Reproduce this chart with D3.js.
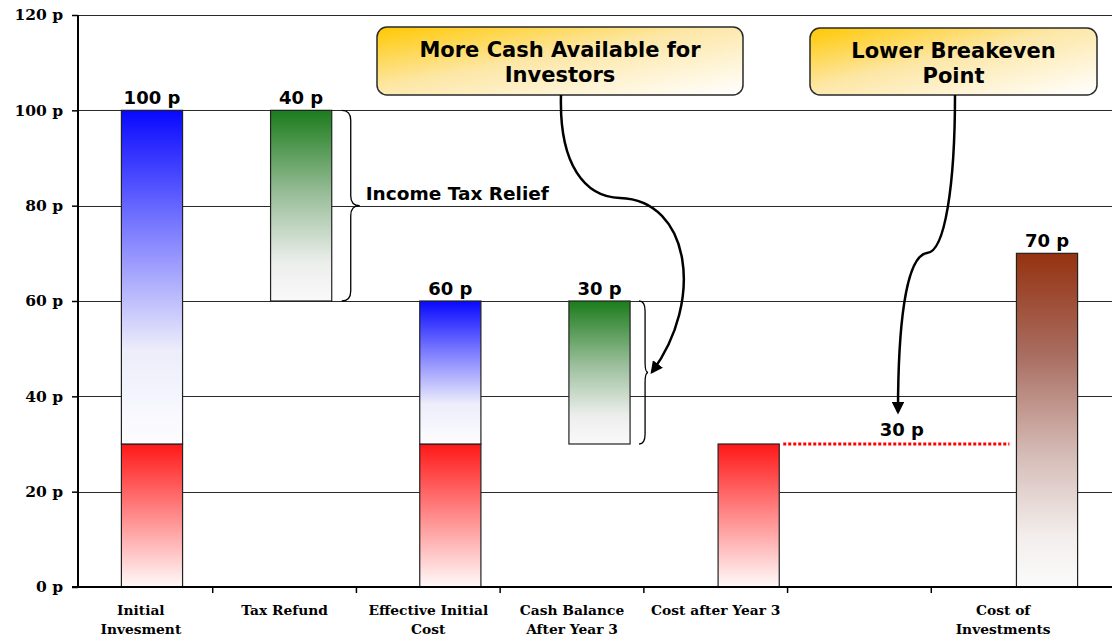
<!DOCTYPE html>
<html>
<head>
<meta charset="utf-8">
<script src="https://cdn.jsdelivr.net/npm/d3@7"></script>
<style>
  body { margin: 0; background: #fff; }
  svg { display: block; }
  .tick-y { font: bold 15.5px "DejaVu Serif", serif; }
  .cat { font: bold 13.8px "DejaVu Serif", serif; }
  .val { font: bold 18px "DejaVu Sans", sans-serif; }
  .note { font: bold 21px "DejaVu Sans", sans-serif; }
</style>
</head>
<body>
<div id="chart"></div>
<script>
// categories (index keyed; one slot is blank in the original)
var categories = ["Initial|Invesment", "Tax Refund", "Effective Initial|Cost",
    "Cash Balance|After Year 3", "Cost after Year 3", "", "Cost of|Investments"];

// stacked segments per category, [from, to] in pence
var redSeg   = [[0, 30], null, [0, 30], null, [0, 30], null, null];
var blueSeg  = [[30, 100], null, [30, 60], null, null, null, null];
var greenSeg = [null, [60, 100], null, [30, 60], null, null, null];
var brownSeg = [null, null, null, null, null, null, [0, 70]];

var topLabels = ["100 p", "40 p", "60 p", "30 p", "", "", "70 p"];
var yTicks = [0, 20, 40, 60, 80, 100, 120];
var breakevenValue = 30;

var width = 1112, height = 637;
var margin = { top: 15, left: 78, bottom: 50 };

var svg = d3.select("#chart").append("svg")
    .attr("width", width)
    .attr("height", height);

var y = d3.scaleLinear().domain([0, 120]).range([height - margin.bottom, margin.top]);

var idx = d3.range(categories.length);
// bars
var x = d3.scaleBand().domain(idx).range([77.4, 1121.6])
    .paddingInner(0.59).paddingOuter(0.295);
// axis labels / ticks (spaced a little differently in the original)
var xAxisScale = d3.scaleBand().domain(idx).range([69, 1075]);

// gradients
var defs = svg.append("defs");
function vGrad(id, stops) {
    var g = defs.append("linearGradient").attr("id", id)
        .attr("x1", 0).attr("y1", 0).attr("x2", 0).attr("y2", 1);
    stops.forEach(function (s) {
        g.append("stop").attr("offset", s[0]).attr("stop-color", s[1]);
    });
}
vGrad("gBlue", [[0, "#0808ff"], [0.35, "#7a7aff"], [0.72, "#ededfb"], [1, "#fdfdff"]]);
vGrad("gRed", [[0, "#ff1818"], [0.5, "#ff8a8a"], [1, "#fffafa"]]);
vGrad("gGreen", [[0, "#1c7c1c"], [0.45, "#9cbf9c"], [0.8, "#eceeec"], [1, "#f9f9f9"]]);
vGrad("gBrown", [[0, "#963210"], [0.3, "#a86c60"], [0.6, "#d5bbb5"], [0.85, "#f3eeed"], [1, "#fbfbfb"]]);

var boxGrad = defs.append("linearGradient").attr("id", "gBox")
    .attr("x1", 0).attr("y1", 0).attr("x2", 1).attr("y2", 1);
boxGrad.append("stop").attr("offset", 0).attr("stop-color", "#ffc800");
boxGrad.append("stop").attr("offset", 0.45).attr("stop-color", "#fde7a6");
boxGrad.append("stop").attr("offset", 1).attr("stop-color", "#ffffff");

defs.append("marker").attr("id", "arrow")
    .attr("viewBox", "0 0 10 10").attr("refX", 8).attr("refY", 5)
    .attr("markerWidth", 5).attr("markerHeight", 5)
    .attr("orient", "auto-start-reverse")
    .append("path").attr("d", "M0,0 L10,5 L0,10 z").attr("fill", "#000");

// gridlines
svg.append("g").selectAll("line").data(yTicks).enter().append("line")
    .attr("x1", margin.left).attr("x2", width)
    .attr("y1", function (d) { return Math.round(y(d)) + 0.5; })
    .attr("y2", function (d) { return Math.round(y(d)) + 0.5; })
    .attr("stroke", "#2a2a2a").attr("stroke-width", 1.2);

// y axis
var yAxis = d3.axisLeft(y).tickValues(yTicks).tickSize(6).tickPadding(9)
    .tickFormat(function (d) { return d + " p"; });
var gy = svg.append("g").attr("transform", "translate(" + margin.left + ",0)").call(yAxis);
gy.select(".domain").remove();
gy.selectAll(".tick line").attr("stroke", "#000").attr("stroke-width", 1.5);
gy.selectAll("text").attr("class", "tick-y").attr("fill", "#000");
svg.append("line").attr("x1", margin.left).attr("x2", margin.left)
    .attr("y1", y(120)).attr("y2", y(0)).attr("stroke", "#000").attr("stroke-width", 2);

// bars
function drawSeries(seg, fill) {
    svg.append("g").selectAll("rect")
        .data(seg.map(function (s, i) { return { i: i, s: s }; }).filter(function (d) { return d.s; }))
        .enter().append("rect")
        .attr("x", function (d) { return x(d.i); })
        .attr("width", x.bandwidth())
        .attr("y", function (d) { return y(d.s[1]); })
        .attr("height", function (d) { return y(d.s[0]) - y(d.s[1]); })
        .attr("fill", fill)
        .attr("stroke", "#222").attr("stroke-width", 1.2);
}
drawSeries(redSeg, "url(#gRed)");
drawSeries(blueSeg, "url(#gBlue)");
drawSeries(greenSeg, "url(#gGreen)");
drawSeries(brownSeg, "url(#gBrown)");

// bar top labels
function barTop(i) {
    var tops = [redSeg[i], blueSeg[i], greenSeg[i], brownSeg[i]]
        .filter(Boolean).map(function (s) { return s[1]; });
    return d3.max(tops);
}
svg.append("g").selectAll("text")
    .data(idx.filter(function (i) { return topLabels[i]; }))
    .enter().append("text")
    .attr("class", "val")
    .attr("x", function (i) { return x(i) + x.bandwidth() / 2; })
    .attr("y", function (i) { return y(barTop(i)) - 6; })
    .attr("text-anchor", "middle")
    .text(function (i) { return topLabels[i]; });

// x axis
svg.append("line").attr("x1", 72).attr("x2", width)
    .attr("y1", y(0)).attr("y2", y(0)).attr("stroke", "#000").attr("stroke-width", 2);
svg.append("g").selectAll("line").data(idx.slice(1)).enter().append("line")
    .attr("x1", function (i) { return xAxisScale(i); })
    .attr("x2", function (i) { return xAxisScale(i); })
    .attr("y1", y(0)).attr("y2", y(0) + 6)
    .attr("stroke", "#000").attr("stroke-width", 1.5);

var catG = svg.append("g").selectAll("text").data(idx).enter().append("text")
    .attr("class", "cat")
    .attr("text-anchor", "middle")
    .attr("x", function (i) { return xAxisScale(i) + xAxisScale.bandwidth() / 2; })
    .attr("y", y(0) + 28);
catG.each(function (i) {
    var lines = categories[i].split("|");
    var t = d3.select(this);
    lines.forEach(function (l, k) {
        t.append("tspan")
            .attr("x", xAxisScale(i) + xAxisScale.bandwidth() / 2)
            .attr("dy", k === 0 ? 0 : 19)
            .text(l);
    });
});

// breakeven dotted line
svg.append("line")
    .attr("x1", x(4) + x.bandwidth() + 4)
    .attr("x2", x(6) - 7)
    .attr("y1", y(breakevenValue)).attr("y2", y(breakevenValue))
    .attr("stroke", "#ff0000").attr("stroke-width", 3)
    .attr("stroke-dasharray", "3,2");
svg.append("text").attr("class", "val")
    .attr("x", x(5) + x.bandwidth() / 2 + 4).attr("y", y(breakevenValue) - 8)
    .attr("text-anchor", "middle").text(breakevenValue + " p");

// braces
function brace(x0, depth, tip, yTop, yBot) {
    var xm = x0 + depth, ym = (yTop + yBot) / 2, r = 10;
    return "M" + x0 + "," + yTop +
        " Q" + xm + "," + yTop + " " + xm + "," + (yTop + r) +
        " L" + xm + "," + (ym - r) +
        " Q" + xm + "," + ym + " " + (xm + tip) + "," + ym +
        " Q" + xm + "," + ym + " " + xm + "," + (ym + r) +
        " L" + xm + "," + (yBot - r) +
        " Q" + xm + "," + yBot + " " + x0 + "," + yBot;
}
svg.append("path")
    .attr("d", brace(x(1) + x.bandwidth() + 10, 9, 9, y(100), y(60)))
    .attr("fill", "none").attr("stroke", "#000").attr("stroke-width", 1.3);
svg.append("text").attr("class", "val").style("font-size", "18.5px")
    .attr("x", x(1) + x.bandwidth() + 34).attr("y", y(80) - 6)
    .text("Income Tax Relief");
svg.append("path")
    .attr("d", brace(x(3) + x.bandwidth() + 9, 6, 3, y(60), y(30)))
    .attr("fill", "none").attr("stroke", "#000").attr("stroke-width", 1.3);

// callouts
var callouts = [
    { x: 377, y: 27, w: 366, h: 68, lines: ["More Cash Available for", "Investors"] },
    { x: 810, y: 28, w: 287, h: 67, lines: ["Lower Breakeven", "Point"] }
];
var cg = svg.append("g").selectAll("g").data(callouts).enter().append("g");
cg.append("rect")
    .attr("x", function (d) { return d.x; }).attr("y", function (d) { return d.y; })
    .attr("width", function (d) { return d.w; }).attr("height", function (d) { return d.h; })
    .attr("rx", 10).attr("fill", "url(#gBox)")
    .attr("stroke", "#2a2a2a").attr("stroke-width", 1.5);
cg.each(function (d) {
    var g = d3.select(this);
    d.lines.forEach(function (l, k) {
        g.append("text").attr("class", "note").attr("text-anchor", "middle")
            .attr("x", d.x + d.w / 2).attr("y", d.y + 30 + k * 25).text(l);
    });
});

// arrows
svg.append("path")
    .attr("d", "M561,95 C559,165 585,197 620,198 C690,200 705,300 652,372")
    .attr("fill", "none").attr("stroke", "#000").attr("stroke-width", 2.5)
    .attr("marker-end", "url(#arrow)");
svg.append("path")
    .attr("d", "M955,95 C955,185 945,252 927,253 C905,256 898,330 898,412")
    .attr("fill", "none").attr("stroke", "#000").attr("stroke-width", 2.5)
    .attr("marker-end", "url(#arrow)");
</script>
</body>
</html>
